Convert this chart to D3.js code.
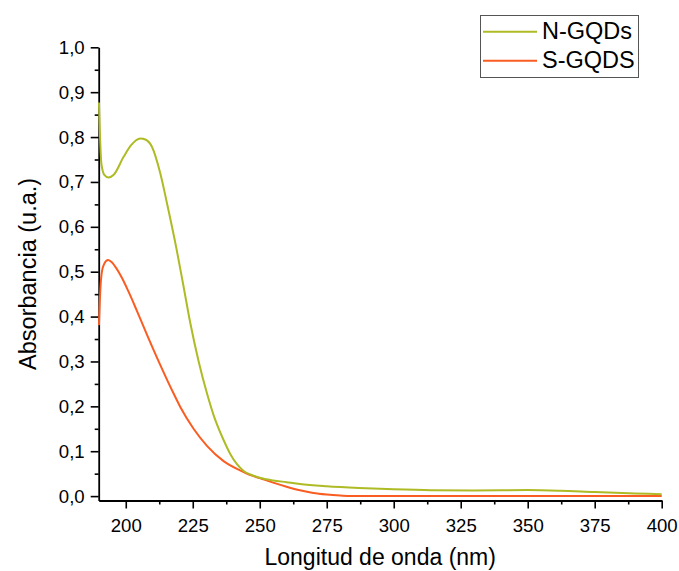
<!DOCTYPE html>
<html>
<head>
<meta charset="utf-8">
<script src="https://cdn.jsdelivr.net/npm/d3@7"></script>
<style>
  html, body { margin: 0; padding: 0; background: #fff; }
  svg { display: block; font-family: "Liberation Sans", Arial, sans-serif; }
</style>
</head>
<body>
<svg id="chart" width="679" height="571"></svg>
<script>
// ---- Data ----
const nWavelength = [190.0, 190.4, 190.9, 192.0, 193.6, 195.5, 199.2, 202.0, 205.4, 207.5, 209.8, 212.9, 215.4, 218.9, 221.6, 224.1, 227.2, 230.3, 232.8, 236.5, 239.0, 241.5, 244.0, 247.0, 250.0, 255.0, 260.0, 265.0, 275.0, 287.0, 300.0, 314.0, 330.0, 350.0, 362.0, 375.0, 390.0, 400.0];
const nAbsorb     = [0.877, 0.800, 0.741, 0.716, 0.710, 0.716, 0.756, 0.782, 0.797, 0.794, 0.778, 0.719, 0.652, 0.552, 0.466, 0.385, 0.300, 0.229, 0.180, 0.125, 0.094, 0.071, 0.056, 0.047, 0.041, 0.035, 0.031, 0.027, 0.022, 0.018, 0.015, 0.013, 0.0125, 0.0134, 0.012, 0.009, 0.006, 0.004];

const sWavelength = [190.0, 190.5, 191.1, 192.0, 193.4, 194.8, 196.0, 198.6, 201.0, 204.0, 207.9, 212.9, 217.9, 220.4, 225.3, 230.3, 236.5, 242.8, 246.0, 250.0, 255.0, 260.0, 265.0, 270.0, 275.0, 280.0, 284.0, 300.0, 350.0, 400.0];
const sAbsorb     = [0.381, 0.459, 0.500, 0.518, 0.526, 0.521, 0.512, 0.486, 0.456, 0.415, 0.360, 0.292, 0.228, 0.198, 0.150, 0.112, 0.078, 0.057, 0.048, 0.040, 0.030, 0.021, 0.013, 0.007, 0.0035, 0.0012, 0.0, 0.0, 0.0, 0.0];

const seriesNames = ["N-GQDs", "S-GQDS"];
const xTicks = [200, 225, 250, 275, 300, 325, 350, 375, 400];
const yTicks = [0.0, 0.1, 0.2, 0.3, 0.4, 0.5, 0.6, 0.7, 0.8, 0.9, 1.0];
const xTitle = "Longitud de onda (nm)";
const yTitle = "Absorbancia (u.a.)";

// ---- Layout ----
const colors = ["#AEBB24", "#FA5D22"];
const svg = d3.select("#chart");
const mLeft = 98.7, mRight = 661.7, mTop = 47.3, mBottom = 500.5;

const x = d3.scaleLinear().domain([189.9, 400]).range([mLeft, mRight]);
const y = d3.scaleLinear().domain([-0.0098, 1.0]).range([mBottom, mTop]);

const fmt = v => d3.format(".1f")(v).replace(".", ",");

const xMinor = d3.range(187.5, 401, 12.5).filter(v => v >= 190 && !xTicks.includes(v));
const yMinor = d3.range(0.05, 1.0, 0.1).map(v => +v.toFixed(2));

// minor ticks
svg.append("g").attr("transform", `translate(0,${mBottom})`)
  .call(d3.axisBottom(x).tickValues(xMinor).tickSize(4).tickFormat(""))
  .call(g => g.select(".domain").remove())
  .call(g => g.selectAll("line").attr("stroke", "#000").attr("stroke-width", 1.6));
svg.append("g").attr("transform", `translate(${mLeft},0)`)
  .call(d3.axisLeft(y).tickValues(yMinor).tickSize(4).tickFormat(""))
  .call(g => g.select(".domain").remove())
  .call(g => g.selectAll("line").attr("stroke", "#000").attr("stroke-width", 1.6));

// major axes
const gx = svg.append("g").attr("transform", `translate(0,${mBottom})`)
  .call(d3.axisBottom(x).tickValues(xTicks).tickSize(8).tickSizeOuter(0).tickPadding(10).tickFormat(d3.format("d")));
const gy = svg.append("g").attr("transform", `translate(${mLeft},0)`)
  .call(d3.axisLeft(y).tickValues(yTicks).tickSize(8).tickSizeOuter(0).tickPadding(6).tickFormat(fmt));

[gx, gy].forEach(g => {
  g.select(".domain").attr("stroke", "#000").attr("stroke-width", 1.8);
  g.selectAll(".tick line").attr("stroke", "#000").attr("stroke-width", 1.6);
  g.selectAll(".tick text").attr("fill", "#000").style("font-size", "18.6px")
    .style("font-family", '"Liberation Sans", Arial, sans-serif');
});

// lines
const line = d3.line().x(d => x(d[0])).y(d => y(d[1])).curve(d3.curveMonotoneX);
const seriesData = [
  d3.zip(nWavelength, nAbsorb),
  d3.zip(sWavelength, sAbsorb)
];
[1, 0].forEach(i => {
  svg.append("path").datum(seriesData[i])
    .attr("fill", "none").attr("stroke", colors[i]).attr("stroke-width", 2)
    .attr("stroke-linejoin", "round").attr("d", line);
});

// axis titles
svg.append("text").attr("x", (mLeft + mRight) / 2).attr("y", 565)
  .attr("text-anchor", "middle").style("font-size", "23px").attr("fill", "#000").text(xTitle);
svg.append("text").attr("transform", `translate(36,${(mTop + mBottom) / 2}) rotate(-90)`)
  .attr("text-anchor", "middle").style("font-size", "23.5px").attr("fill", "#000").text(yTitle);

// legend
const lg = svg.append("g");
lg.append("rect").attr("x", 480.5).attr("y", 15.5).attr("width", 158).attr("height", 62)
  .attr("fill", "#fff").attr("stroke", "#555").attr("stroke-width", 1);
seriesNames.forEach((name, i) => {
  const yy = 31.7 + i * 29;
  lg.append("line").attr("x1", 483).attr("x2", 537).attr("y1", yy).attr("y2", yy)
    .attr("stroke", colors[i]).attr("stroke-width", 2);
  lg.append("text").attr("x", 542).attr("y", 39 + i * 29.3)
    .style("font-size", "23.5px").attr("fill", "#000").text(name);
});
</script>
</body>
</html>
